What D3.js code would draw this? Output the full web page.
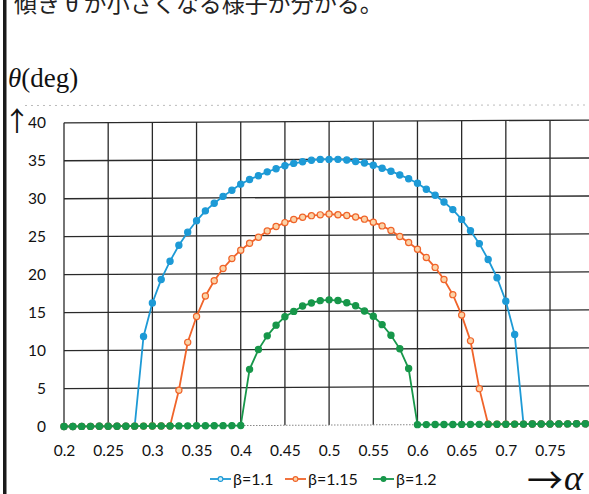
<!DOCTYPE html>
<html>
<head>
<meta charset="utf-8">
<script src="https://cdn.jsdelivr.net/npm/d3@7"></script>
<style>
  body { margin: 0; background: #fff; overflow: hidden; }
</style>
</head>
<body>
<svg id="chart" width="589" height="494"></svg>
<script>
'use strict';

// alpha values of the computed points
const alpha = [
  0.20, 0.21, 0.22, 0.23, 0.24, 0.25, 0.26, 0.27, 0.28, 0.29,
  0.30, 0.31, 0.32, 0.33, 0.34, 0.35, 0.36, 0.37, 0.38, 0.39,
  0.40, 0.41, 0.42, 0.43, 0.44, 0.45, 0.46, 0.47, 0.48, 0.49,
  0.50, 0.51, 0.52, 0.53, 0.54, 0.55, 0.56, 0.57, 0.58, 0.59,
  0.60, 0.61, 0.62, 0.63, 0.64, 0.65, 0.66, 0.67, 0.68, 0.69,
  0.70, 0.71, 0.72, 0.73, 0.74, 0.75, 0.76, 0.77, 0.78, 0.79,
  0.80
];

// theta (deg) for beta = 1.1
const theta110 = [
  0, 0, 0, 0, 0, 0, 0, 0, 0, 11.8,
  16.2, 19.3, 21.7, 23.8, 25.5, 27.0, 28.3, 29.3, 30.2, 31.0,
  31.8, 32.4, 32.9, 33.4, 33.8, 34.2, 34.5, 34.7, 34.9, 35.0,
  35.0, 35.0, 34.9, 34.7, 34.5, 34.2, 33.8, 33.4, 32.9, 32.4,
  31.8, 31.0, 30.2, 29.3, 28.3, 27.0, 25.5, 23.8, 21.7, 19.3,
  16.2, 11.8, 0, 0, 0, 0, 0, 0, 0, 0,
  0
];

// theta (deg) for beta = 1.15
const theta115 = [
  0, 0, 0, 0, 0, 0, 0, 0, 0, 0,
  0, 0, 0, 4.7, 11.0, 14.4, 17.1, 19.1, 20.7, 22.0,
  23.1, 24.0, 24.8, 25.6, 26.2, 26.7, 27.1, 27.4, 27.6, 27.7,
  27.8, 27.7, 27.6, 27.4, 27.1, 26.7, 26.2, 25.6, 24.8, 24.0,
  23.1, 22.0, 20.7, 19.1, 17.1, 14.4, 11.0, 4.7, 0, 0,
  0, 0, 0, 0, 0, 0, 0, 0, 0, 0,
  0
];

// theta (deg) for beta = 1.2
const theta120 = [
  0, 0, 0, 0, 0, 0, 0, 0, 0, 0,
  0, 0, 0, 0, 0, 0, 0, 0, 0, 0,
  0, 7.4, 10.0, 11.8, 13.2, 14.3, 15.0, 15.7, 16.1, 16.4,
  16.5, 16.4, 16.1, 15.7, 15.0, 14.3, 13.2, 11.8, 10.0, 7.4,
  0, 0, 0, 0, 0, 0, 0, 0, 0, 0,
  0, 0, 0, 0, 0, 0, 0, 0, 0, 0,
  0
];

const seriesNames = [ 'β=1.1', 'β=1.15', 'β=1.2' ];
// 0.8 lies just past the right edge of the page
const xTicks = [ 0.2, 0.25, 0.3, 0.35, 0.4, 0.45, 0.5, 0.55, 0.6, 0.65, 0.7, 0.75 ];
const yTicks = [ 0, 5, 10, 15, 20, 25, 30, 35, 40 ];

const series = [
  { name: seriesNames[0], values: theta110, color: '#1d9ad6', fill: '#1d9ad6' },
  { name: seriesNames[1], values: theta115, color: '#f0642a', fill: '#fbd3a8' },
  { name: seriesNames[2], values: theta120, color: '#17974a', fill: '#17974a' }
];

const svg = d3.select( '#chart' );

// scales
const x = d3.scaleLinear().domain( [ 0.2, 0.8 ] ).range( [ 64, 594.2 ] ),
      y = d3.scaleLinear().domain( [ 0, 40 ] ).range( [ 426.5, 122.8 ] );

// the scanned page is slightly tilted
const plot = svg.append( 'g' )
  .attr( 'transform', 'translate(64,0) skewY(-0.3) translate(-64,0)' );

// gridlines
plot.append( 'g' )
    .attr( 'class', 'vgrid' )
  .selectAll( 'line' )
    .data( xTicks )
  .enter().append( 'line' )
    .attr( 'x1', (d) => x( d ) )
    .attr( 'x2', (d) => x( d ) )
    .attr( 'y1', y( 40 ) )
    .attr( 'y2', y( 0 ) )
    .style( 'stroke', '#2a2a2a' )
    .style( 'stroke-width', 1.3 );

plot.append( 'g' )
    .attr( 'class', 'hgrid' )
  .selectAll( 'line' )
    .data( yTicks )
  .enter().append( 'line' )
    .attr( 'x1', x( 0.2 ) )
    .attr( 'x2', x( 0.8 ) )
    .attr( 'y1', (d) => y( d ) )
    .attr( 'y2', (d) => y( d ) )
    .style( 'stroke', (d) => d === 0 ? '#888' : '#2a2a2a' )
    .style( 'stroke-width', (d) => d === 0 ? 1 : 1.3 )
    .style( 'stroke-dasharray', (d) => d === 0 ? '1.5,1.5' : null );

// axes (labels only)
const xAxis = d3.axisBottom( x ).tickValues( xTicks ).tickSize( 0 ).tickPadding( 18 ).tickFormat( (d) => String( d ) ),
      yAxis = d3.axisLeft( y ).tickValues( yTicks ).tickSize( 0 ).tickPadding( 18 ).tickFormat( (d) => String( d ) );

svg.append( 'g' )
    .attr( 'transform', 'translate(0,' + y( 0 ) + ')' )
    .call( xAxis )
    .call( (g) => g.select( '.domain' ).remove() )
    .selectAll( 'text' )
    .style( 'font-family', 'Lato, "Open Sans", sans-serif' )
    .style( 'font-size', '15.5px' )
    .style( 'fill', '#111' );

svg.append( 'g' )
    .attr( 'transform', 'translate(' + x( 0.2 ) + ',0)' )
    .call( yAxis )
    .call( (g) => g.select( '.domain' ).remove() )
    .selectAll( 'text' )
    .style( 'font-family', 'Lato, "Open Sans", sans-serif' )
    .style( 'font-size', '15.5px' )
    .style( 'fill', '#111' );

// series lines and markers
const line = d3.line()
  .x( (d, i) => x( alpha[i] ) )
  .y( (d) => y( d ) );

series.forEach( (s) => {
  const g = plot.append( 'g' ).attr( 'class', 'series' );
  g.append( 'path' )
    .datum( s.values )
    .attr( 'd', line )
    .style( 'fill', 'none' )
    .style( 'stroke', s.color )
    .style( 'stroke-width', 1.8 );
  g.selectAll( 'circle' )
    .data( s.values )
  .enter().append( 'circle' )
    .attr( 'cx', (d, i) => x( alpha[i] ) )
    .attr( 'cy', (d) => y( d ) )
    .attr( 'r', 3.1 )
    .style( 'fill', s.fill )
    .style( 'stroke', s.color )
    .style( 'stroke-width', 1.2 );
} );

// legend
const legendX = [ 210, 285, 373 ];
const legend = svg.append( 'g' ).attr( 'class', 'legend' );
series.forEach( (s, i) => {
  const lg = legend.append( 'g' ).attr( 'transform', `translate(${legendX[i]},479)` );
  lg.append( 'line' )
    .attr( 'x1', 0 ).attr( 'x2', 21 )
    .style( 'stroke', s.color ).style( 'stroke-width', 1.8 );
  lg.append( 'circle' )
    .attr( 'cx', 10.5 ).attr( 'r', 2.4 )
    .style( 'fill', i === 0 ? '#cfeefa' : s.fill )
    .style( 'stroke', s.color ).style( 'stroke-width', 1.1 );
  lg.append( 'text' )
    .attr( 'x', 23 ).attr( 'dy', '0.35em' )
    .style( 'font-family', 'Lato, "Open Sans", sans-serif' )
    .style( 'font-size', '16px' )
    .style( 'fill', '#111' )
    .text( s.name );
} );

// scan decorations: page rule and faint dotted line
svg.append( 'rect' )
  .attr( 'x', 3 ).attr( 'y', 0 ).attr( 'width', 3.5 ).attr( 'height', 494 )
  .style( 'fill', '#1a1a1a' );

svg.append( 'line' )
  .attr( 'x1', 25 ).attr( 'x2', 589 ).attr( 'y1', 105.5 ).attr( 'y2', 105 )
  .style( 'stroke', '#bbb' ).style( 'stroke-width', 1 )
  .style( 'stroke-dasharray', '2,4' );

// page text (its top is cut by the scan)
svg.append( 'text' )
  .attr( 'x', 14 ).attr( 'y', 12 )
  .style( 'font-family', '"Noto Sans CJK JP", sans-serif' )
  .style( 'font-size', '23px' )
  .style( 'fill', '#222' )
  .text( '傾き θ が小さくなる様子が分かる。' );

// axis titles
const yTitle = svg.append( 'text' )
  .attr( 'x', 8 ).attr( 'y', 87 )
  .style( 'font-family', '"Liberation Serif", serif' )
  .style( 'font-size', '27px' )
  .style( 'fill', '#111' );
yTitle.append( 'tspan' ).style( 'font-style', 'italic' ).text( 'θ' );
yTitle.append( 'tspan' ).text( '(deg)' );

svg.append( 'text' )
  .attr( 'x', 17 ).attr( 'y', 131 )
  .attr( 'text-anchor', 'middle' )
  .style( 'font-family', '"Noto Sans CJK JP", sans-serif' )
  .style( 'font-size', '27px' )
  .style( 'fill', '#111' )
  .text( '↑' );

svg.append( 'text' )
  .attr( 'x', 545 ).attr( 'y', 494 )
  .attr( 'text-anchor', 'middle' )
  .style( 'font-family', '"Noto Sans CJK JP", sans-serif' )
  .style( 'font-size', '36px' )
  .style( 'fill', '#111' )
  .text( '→' );

svg.append( 'text' )
  .attr( 'x', 564 ).attr( 'y', 490 )
  .style( 'font-family', '"Liberation Serif", serif' )
  .style( 'font-style', 'italic' )
  .style( 'font-size', '36px' )
  .style( 'fill', '#111' )
  .text( 'α' );
</script>
</body>
</html>
